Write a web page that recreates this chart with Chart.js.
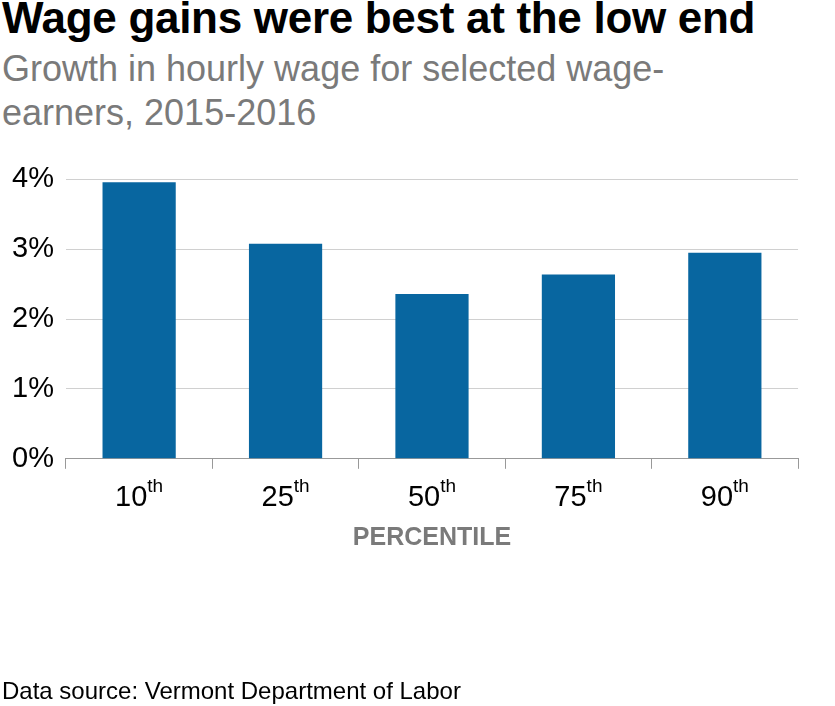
<!DOCTYPE html>
<html><head><meta charset="utf-8">
<script src="https://cdn.jsdelivr.net/npm/chart.js"></script>
<style>
body{margin:0;width:835px;height:706px;background:#fff;font-family:"Liberation Sans",Arial,sans-serif;position:relative;overflow:hidden}
#t{position:absolute;left:2px;top:-8px;font-size:44px;line-height:52px;font-weight:bold;color:#000;white-space:nowrap;letter-spacing:-0.3px}
#s{position:absolute;left:2px;top:47px;font-size:36px;color:#7a7a7a;line-height:44px;width:800px}
#src{position:absolute;left:2px;top:677px;font-size:24px;line-height:28px;color:#000}
#w{position:absolute;left:0;top:150px;width:835px;height:540px}
</style></head><body>
<div id="t">Wage gains were best at the low end</div>
<div id="s">Growth in hourly wage for selected wage-<br>earners, 2015-2016</div>
<div id="w"><canvas id="c"></canvas></div>
<div id="src">Data source: Vermont Department of Labor</div>
<script>
const categories=["10","25","50","75","90"];
const suffixes=["th","th","th","th","th"];
const values=[3.96,3.08,2.36,2.64,2.95];
const yTicks=[0,1,2,3,4];
const labelPlugin={id:'lbl',afterDraw(ch){
 const x=ch.scales.x,ctx=ch.ctx,y=ch.chartArea.bottom;
 ctx.save();ctx.fillStyle='#000';ctx.textBaseline='alphabetic';
 categories.forEach((c,i)=>{
  const px=x.getPixelForValue(i);
  ctx.font='29px "Liberation Sans",Arial';const w1=ctx.measureText(c).width;
  ctx.font='19px "Liberation Sans",Arial';const w2=ctx.measureText(suffixes[i]).width;
  const sx=px-(w1+w2)/2;
  ctx.font='29px "Liberation Sans",Arial';ctx.fillText(c,sx,y+47);
  ctx.font='19px "Liberation Sans",Arial';ctx.fillText(suffixes[i],sx+w1,y+33);
 });
 ctx.font='900 25px "Liberation Sans",Arial';ctx.fillStyle='#7a7a7a';ctx.textAlign='center';
 ctx.fillText('PERCENTILE',(ch.chartArea.left+ch.chartArea.right)/2,y+86);
 ctx.restore();}};
new Chart(document.getElementById('c'),{type:'bar',
 data:{labels:categories,datasets:[{data:values,backgroundColor:'#0866a0',barPercentage:0.5,categoryPercentage:1}]},
 options:{responsive:true,maintainAspectRatio:false,animation:false,
  layout:{padding:{left:0,right:7,top:25,bottom:0}},
  plugins:{legend:{display:false},tooltip:{enabled:false}},
  scales:{
   x:{grid:{display:true,drawOnChartArea:false,offset:true,color:'#999',tickLength:10},border:{color:'#999'},ticks:{display:true,color:'rgba(0,0,0,0)',font:{size:26},padding:95}},
   y:{min:0,max:4,afterBuildTicks:a=>{a.ticks=yTicks.map(v=>({value:v}))},
      grid:{color:'#d0d0d0',drawTicks:false},border:{display:false},
      ticks:{callback:v=>v+'%',color:'#000',font:{size:29,family:'"Liberation Sans",Arial'},padding:12}}
  }},plugins:[labelPlugin]});
</script></body></html>
